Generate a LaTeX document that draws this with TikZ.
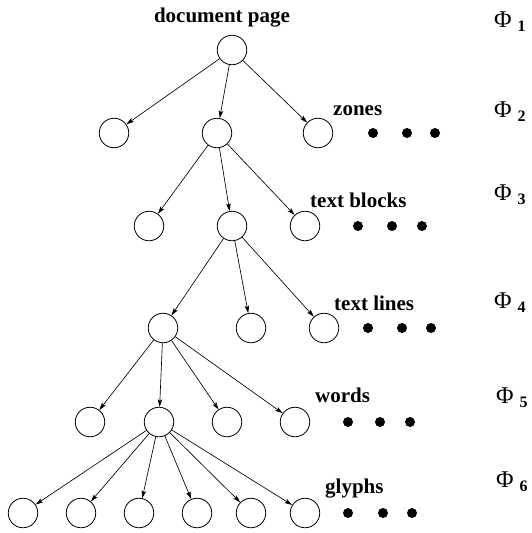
\documentclass[tikz,border=0pt]{standalone}
\usepackage{fontspec}
\setmainfont{Liberation Serif}
\usepackage{tikz}
\usetikzlibrary{arrows.meta,positioning}
\tikzset{
    no/.style={
        circle,
        draw,
        line width=0.8pt,
        minimum size=29.5pt,
        inner sep=0pt
    },
    ponto/.style={circle, fill, minimum size=10pt, inner sep=0pt},
    rotulo/.style={font=\fontsize{21}{24}\selectfont\bfseries, inner sep=0pt},
    nivel/.style={font=\fontsize{24}{28}\selectfont, inner sep=0pt, anchor=base west},
    seta/.style={-{Stealth[length=7.5pt,width=4.5pt,inset=1.5pt]}, line width=0.65pt}
}
\newcommand{\textPhi}{Φ}
\newcommand{\fase}[1]{\textPhi\hspace{6pt}\raisebox{-4pt}{\fontsize{16}{16}\selectfont\bfseries #1}}

\begin{document}
\begin{tikzpicture}[x=1pt, y=-1pt]
        \useasboundingbox (0,0) rectangle (532,533);
        % arvore
        \node[no] (raiz) at (232,50) {};
        \node[no] (z1) at (114,133) {};
        \node[no] (z2) at (217,133) {};
        \node[no] (z3) at (318,133) {};
        \node[no] (b1) at (149,226) {};
        \node[no] (b2) at (232,226) {};
        \node[no] (b3) at (305,226) {};
        \node[no] (l1) at (163,328) {};
        \node[no] (l2) at (251,328) {};
        \node[no] (l3) at (324,328) {};
        \node[no] (w1) at (90,422) {};
        \node[no] (w2) at (159,422) {};
        \node[no] (w3) at (227,422) {};
        \node[no] (w4) at (295,422) {};
        \node[no] (g1) at (23,513) {};
        \node[no] (g2) at (81,513) {};
        \node[no] (g3) at (139,513) {};
        \node[no] (g4) at (197,513) {};
        \node[no] (g5) at (251,513) {};
        \node[no] (g6) at (305,513) {};
        % rotulos
        \node[rotulo, anchor=base] (tpagina) at (222,22) {document page};
        \node[rotulo, anchor=base west] (tzonas) at (333,115) {zones};
        \node[rotulo, anchor=base west] (tblocos) at (310,207) {text blocks};
        \node[rotulo, anchor=base west] (tlinhas) at (334,310) {text lines};
        \node[rotulo, anchor=base west] (tpalavras) at (315,402) {words};
        \node[rotulo, anchor=base west] (tglifos) at (325,493) {glyphs};
        % pontos
        \node[ponto] (pz1) at (373,133) {};
        \node[ponto] (pz2) at (407,133) {};
        \node[ponto] (pz3) at (435,133) {};
        \node[ponto] (pb1) at (358,226) {};
        \node[ponto] (pb2) at (392,226) {};
        \node[ponto] (pb3) at (422,226) {};
        \node[ponto] (pl1) at (368,328) {};
        \node[ponto] (pl2) at (402,328) {};
        \node[ponto] (pl3) at (431,328) {};
        \node[ponto] (pw1) at (348,422) {};
        \node[ponto] (pw2) at (380,422) {};
        \node[ponto] (pw3) at (410,422) {};
        \node[ponto] (pg1) at (348,513) {};
        \node[ponto] (pg2) at (383,513) {};
        \node[ponto] (pg3) at (412,513) {};
        % niveis
        \node[nivel] (f1) at (494,27) {\fase{1}};
        \node[nivel] (f2) at (494,117) {\fase{2}};
        \node[nivel] (f3) at (494,200) {\fase{3}};
        \node[nivel] (f4) at (494,308) {\fase{4}};
        \node[nivel] (f5) at (496,403) {\fase{5}};
        \node[nivel] (f6) at (496,487) {\fase{6}};
        % arestas
        \draw[seta] (raiz) -- (z1);
        \draw[seta] (raiz) -- (z2);
        \draw[seta] (raiz) -- (z3);
        \draw[seta] (z2) -- (b1);
        \draw[seta] (z2) -- (b2);
        \draw[seta] (z2) -- (b3);
        \draw[seta] (b2) -- (l1);
        \draw[seta] (b2) -- (l2);
        \draw[seta] (b2) -- (l3);
        \draw[seta] (l1) -- (w1);
        \draw[seta] (l1) -- (w2);
        \draw[seta] (l1) -- (w3);
        \draw[seta] (l1) -- (w4);
        \draw[seta] (w2) -- (g1);
        \draw[seta] (w2) -- (g2);
        \draw[seta] (w2) -- (g3);
        \draw[seta] (w2) -- (g4);
        \draw[seta] (w2) -- (g5);
        \draw[seta] (w2) -- (g6);
    \end{tikzpicture}
\end{document}
